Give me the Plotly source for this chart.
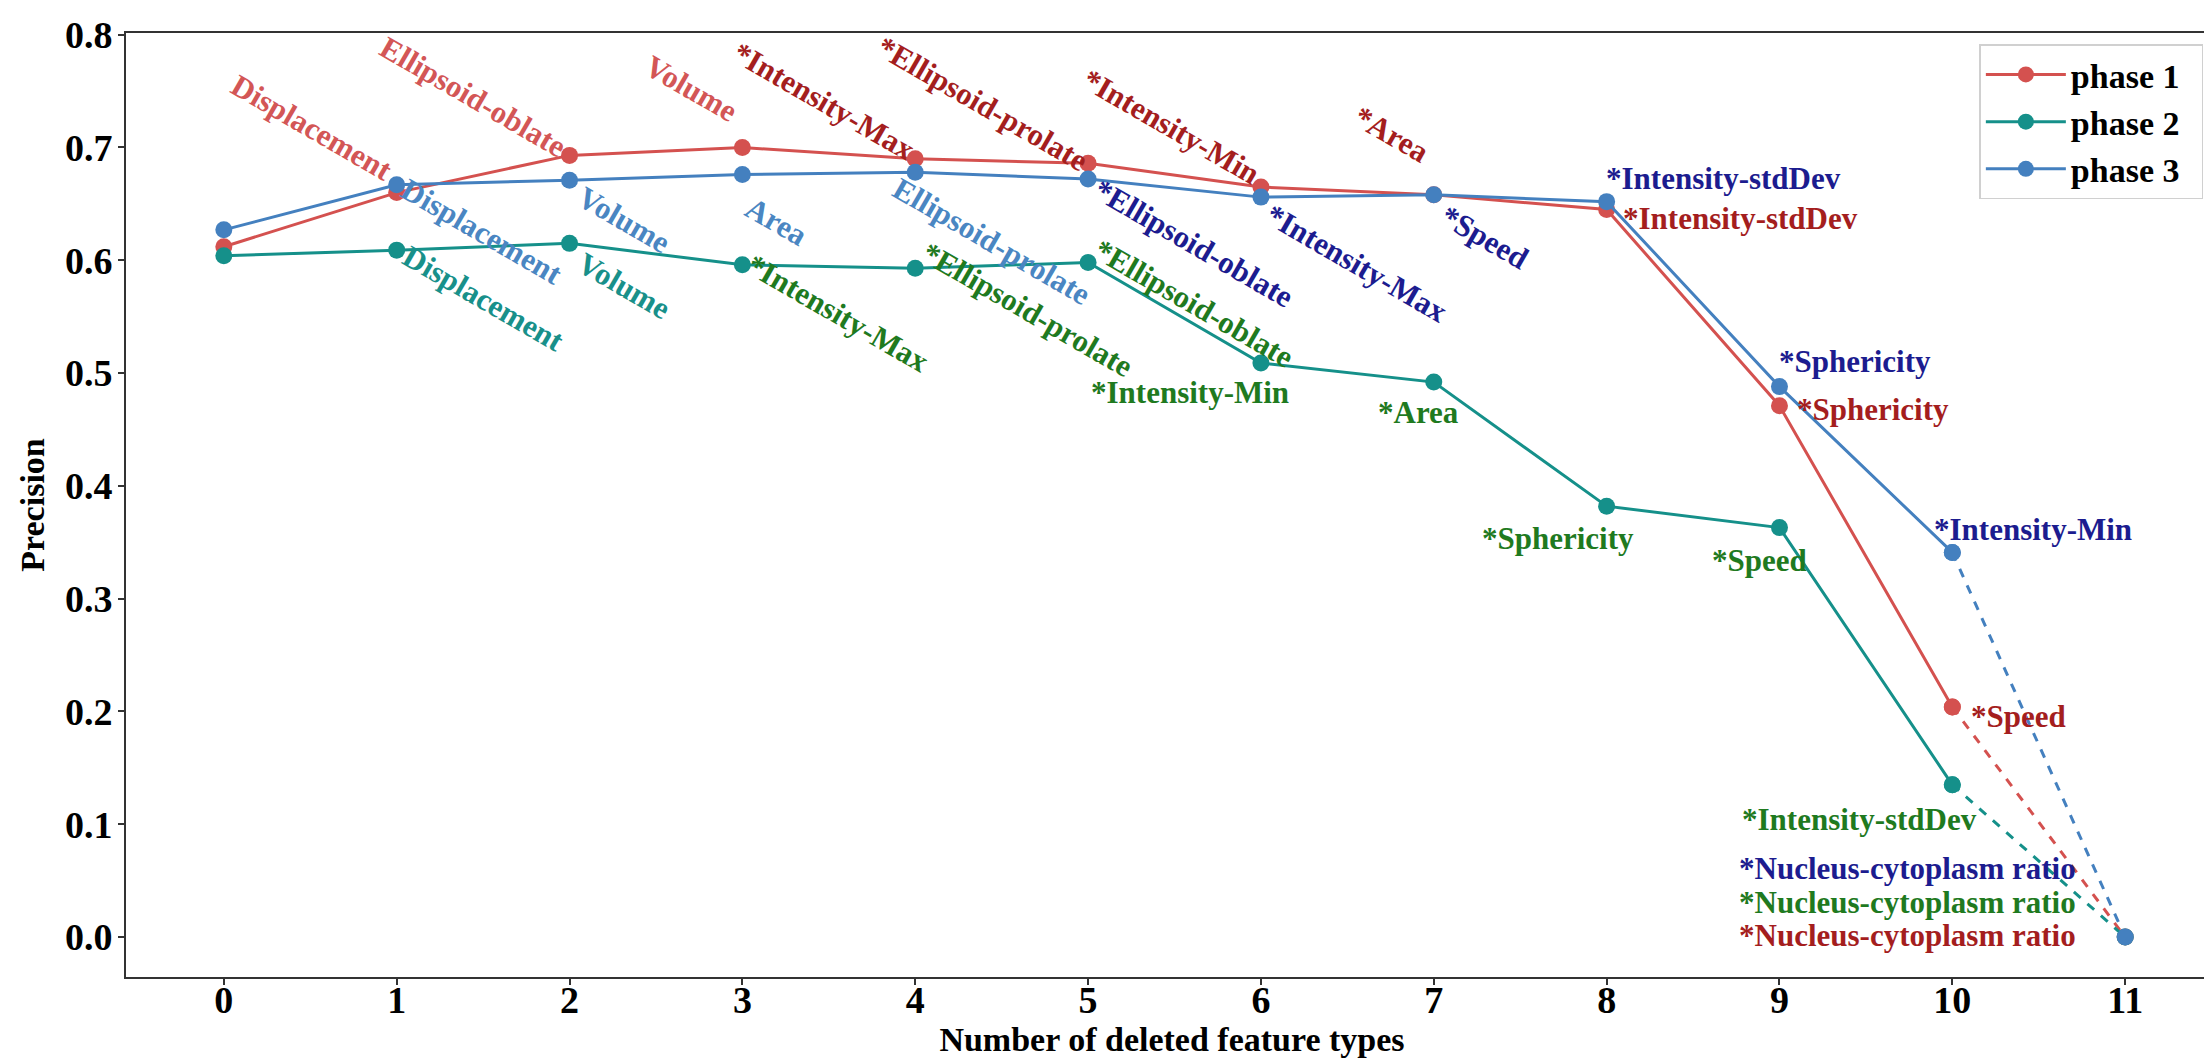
import plotly.graph_objects as go

# ---- data ----
steps = list(range(12))
tick_vals_y = [0.0, 0.1, 0.2, 0.3, 0.4, 0.5, 0.6, 0.7, 0.8]
tick_text_y = ["0.0", "0.1", "0.2", "0.3", "0.4", "0.5", "0.6", "0.7", "0.8"]
series_names = ["phase 1", "phase 2", "phase 3"]

phase1 = [0.612, 0.660, 0.693, 0.700, 0.690, 0.686, 0.665, 0.658, 0.645, 0.471, 0.204, 0.0]
phase2 = [0.604, 0.609, 0.615, 0.596, 0.593, 0.598, 0.509, 0.492, 0.382, 0.363, 0.135, 0.0]
phase3 = [0.627, 0.667, 0.671, 0.676, 0.678, 0.672, 0.656, 0.658, 0.652, 0.488, 0.341, 0.0]

labels1 = ["", "Displacement", "Ellipsoid-oblate", "Volume", "*Intensity-Max", "*Ellipsoid-prolate",
           "*Intensity-Min", "*Area", "*Intensity-stdDev", "*Sphericity", "*Speed", "*Nucleus-cytoplasm ratio"]
labels2 = ["", "Displacement", "Volume", "*Intensity-Max", "*Ellipsoid-prolate", "*Ellipsoid-oblate",
           "*Intensity-Min", "*Area", "*Sphericity", "*Speed", "*Intensity-stdDev", "*Nucleus-cytoplasm ratio"]
labels3 = ["", "Displacement", "Volume", "Area", "Ellipsoid-prolate", "*Ellipsoid-oblate",
           "*Intensity-Max", "*Speed", "*Intensity-stdDev", "*Sphericity", "*Intensity-Min", "*Nucleus-cytoplasm ratio"]

# ---- styles ----
FONT = "Liberation Serif, Times New Roman, serif"
line_colors = ["#d4514f", "#15908a", "#4480bf"]
light_label = ["#d35656", "#18908a", "#4a86c2"]
star_label = {0: "#a41e1e", 1: "#1f7a1f", 2: "#1c1c8f"}

# label layout: (dx, dy) screen pixel offsets and rotation
off1 = [None, (-85, -65), (-97, -59), (-51, -59), (-91, -57), (-106, -60), (-90, -60), (-42, -60),
        (134, 9), (94, 4), (66, 10), (-218, -2)]
off2 = [None, (87, 48), (54, 42), (96, 49), (112, 41), (106, 41), (-71, 30), (-15, 30),
        (-49, 32), (-20, 33), (-93, 35), (-218, -35)]
off3 = [None, (85, 47), (54, 39), (34, 47), (77, 69), (106, 64), (96, 66), (51, 43),
        (117, -23), (76, -25), (81, -23), (-218, -69)]
rot1 = [0, 30, 30, 30, 30, 30, 30, 30, 0, 0, 0, 0]
rot2 = [0, 30, 30, 30, 30, 30, 0, 0, 0, 0, 0, 0]
rot3 = [0, 30, 30, 30, 30, 30, 30, 30, 0, 0, 0, 0]

fig = go.Figure()
all_series = [phase1, phase2, phase3]
for k, ys in enumerate(all_series):
    c = line_colors[k]
    fig.add_trace(go.Scatter(
        x=steps[:11], y=ys[:11], mode="lines+markers", name=series_names[k] + "\u00a0\u00a0",
        line=dict(color=c, width=3), marker=dict(color=c, size=17),
        legendgroup=series_names[k], showlegend=True))
    fig.add_trace(go.Scatter(
        x=steps[10:], y=ys[10:], mode="lines+markers", name=series_names[k],
        line=dict(color=c, width=3, dash="dash"), marker=dict(color=c, size=17),
        legendgroup=series_names[k], showlegend=False))

annotations = []
for k, (ys, labs, offs, rots) in enumerate([(phase1, labels1, off1, rot1),
                                            (phase2, labels2, off2, rot2),
                                            (phase3, labels3, off3, rot3)]):
    for i, lab in enumerate(labs):
        if not lab:
            continue
        col = star_label[k] if lab.startswith("*") else light_label[k]
        dx, dy = offs[i]
        annotations.append(dict(
            x=steps[i], y=ys[i], xref="x", yref="y", text=lab, showarrow=False,
            xanchor="center", yanchor="middle", xshift=dx, yshift=-dy,
            textangle=rots[i],
            font=dict(family=FONT, size=31, color=col, weight="bold")))

fig.update_layout(
    width=2212, height=1059,
    margin=dict(l=118, r=0, t=25, b=90),
    paper_bgcolor="white", plot_bgcolor="white",
    annotations=annotations,
    showlegend=True,
    legend=dict(x=0.993, y=0.988, xanchor="right", yanchor="top",
                bgcolor="white", bordercolor="#d0d0d0", borderwidth=1.5,
                tracegroupgap=0,
                font=dict(family=FONT, size=34, color="black", weight="bold"),
                itemwidth=80),
)
fig.update_xaxes(
    range=[-0.566, 11.537], tickvals=steps, ticktext=[str(s) for s in steps],
    showgrid=False, zeroline=False, showline=True, linecolor="#333333", linewidth=2, mirror=True,
    ticks="outside", ticklen=6, tickwidth=2, tickcolor="#333333", ticklabelstandoff=-18,
    tickfont=dict(family=FONT, size=38, color="black", weight="bold"),
    title=dict(text="Number of deleted feature types", standoff=0,
               font=dict(family=FONT, size=34, color="black", weight="bold")))
fig.update_yaxes(
    range=[-0.0354, 0.8015], tickvals=tick_vals_y, ticktext=tick_text_y,
    showgrid=False, zeroline=False, showline=True, linecolor="#333333", linewidth=2, mirror=True,
    ticks="outside", ticklen=6, tickwidth=2, tickcolor="#333333", ticklabelstandoff=-2,
    tickfont=dict(family=FONT, size=38, color="black", weight="bold"),
    title=dict(text="Precision", standoff=10,
               font=dict(family=FONT, size=34, color="black", weight="bold")))

fig.write_html("out.html")
